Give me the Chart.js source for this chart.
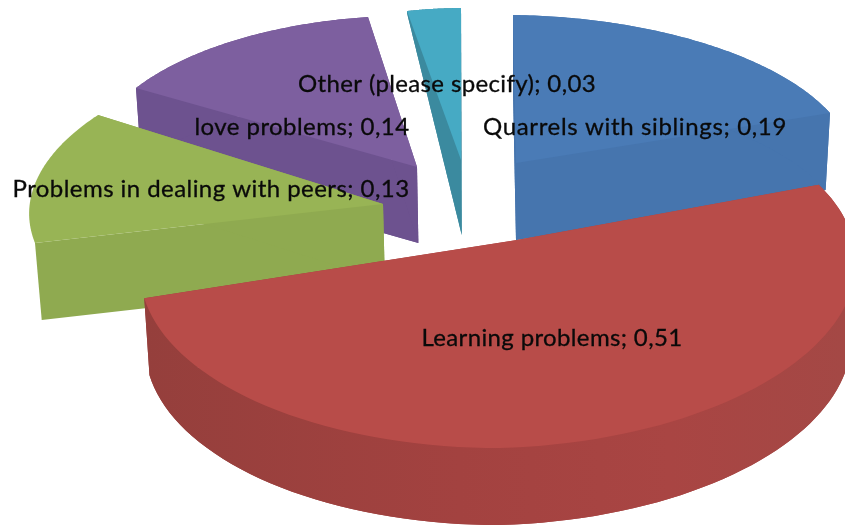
<!DOCTYPE html>
<html>
<head>
<meta charset="utf-8">
<style>html,body{margin:0;padding:0;background:#fff}canvas{display:block}</style>
<script src="https://cdn.jsdelivr.net/npm/chart.js@4"></script>
</head>
<body>
<canvas id="c" width="845" height="525"></canvas>
<script>
const categories = ["Quarrels with siblings", "Learning problems", "Problems in dealing with peers", "love problems", "Other (please specify)"];
const values = [0.19, 0.51, 0.13, 0.14, 0.03];
const topColors = ["#4A7BB6", "#B84C49", "#98B455", "#7D5F9F", "#46AAC4"];
const wallColors = ["#4675AE", "#A64442", "#8FAA50", "#6D528F", "#3B8A9F"];

// 3D view layout, per slice (not data)
const apexes = [[516,163],[517,240],[383,204],[417,167],[461,160]];
const startEdges = [[513,15],null,[35,243],[136,88],[407,11]];
const endEdges = [[830,113],null,[98,115],[368,17],[461,8]];
const innerDepths = [77,77,77,76,75];
const outerDepths = [77,77,77,76,2];
const rimWalls = [true,true,false,true,true];
const redEllipse = {cx:498, cy:271, a:358, b:177, tilt:0.024};
const redStartShift = 0.06;
const drawOrder = [3,4,0,2,1];
const vanishX = 516, depthShrink = 0.986;
const labelBoxes = [[635,135,304],[552,346,261],[211,197,397],[302,135,215],[447,92,298]];

function affine(A,P1,P2,t1,t2){
  const a=Math.sin(t1),b=Math.cos(t1),c=Math.sin(t2),d=Math.cos(t2),det=a*d-b*c;
  const v1=[P1[0]-A[0],P1[1]-A[1]],v2=[P2[0]-A[0],P2[1]-A[1]];
  const U=[(d*v1[0]-b*v2[0])/det,(d*v1[1]-b*v2[1])/det];
  const V=[(a*v2[0]-c*v1[0])/det,(a*v2[1]-c*v1[1])/det];
  return t=>[A[0]+Math.sin(t)*U[0]+Math.cos(t)*V[0],A[1]+Math.sin(t)*U[1]+Math.cos(t)*V[1]];
}
function perspective(A,E){
  const p=[(A[0]-E.cx)/E.a,(E.cy-A[1])/E.b];
  const s2=p[0]*p[0]+p[1]*p[1],g=1/Math.sqrt(1-s2);
  return t=>{
    const u=[Math.sin(t),Math.cos(t)],dot=u[0]*p[0]+u[1]*p[1],k=dot/s2,den=1+dot;
    const par=[k*p[0],k*p[1]];
    const wx=(p[0]+par[0]+(u[0]-par[0])/g)/den, wy=(p[1]+par[1]+(u[1]-par[1])/g)/den;
    const x=E.a*wx,y=E.b*wy;
    return [E.cx+x,E.cy-y-Math.max(x,0)*E.tilt];
  };
}
const sink=(pt,d)=>[vanishX+(pt[0]-vanishX)*(1-(1-depthShrink)*d/77),pt[1]+d];

const pie3d={
  id:'pie3d',
  beforeDatasetsDraw(chart){
    const ctx=chart.ctx,arcs=chart.getDatasetMeta(0).data;
    for(const i of drawOrder){
      const el=arcs[i],t1=el.endAngle+Math.PI/2,A=apexes[i];
      let t0=el.startAngle+Math.PI/2;
      const proj=startEdges[i]?affine(A,startEdges[i],endEdges[i],t0,t1):perspective(A,redEllipse);
      if(!startEdges[i])t0+=redStartShift;
      const rim=[];
      for(let k=0;k<=96;k++)rim.push(proj(t0+(t1-t0)*k/96));
      const dIn=innerDepths[i],dOut=outerDepths[i],low=rim.map(q=>sink(q,dOut)),lowA=sink(A,dIn);
      let wall=wallColors[i];
      if(i===1){
        wall=ctx.createLinearGradient(145,0,845,0);
        wall.addColorStop(0,'#953F3C');wall.addColorStop(0.45,'#A34240');wall.addColorStop(0.75,'#A94543');wall.addColorStop(1,'#A44845');
      }
      ctx.fillStyle=wall;
      const poly=pts=>{ctx.beginPath();pts.forEach((q,n)=>n?ctx.lineTo(q[0],q[1]):ctx.moveTo(q[0],q[1]));ctx.closePath();ctx.fill();};
      poly([A,rim[0],low[0],lowA]);
      poly([A,rim[96],low[96],lowA]);
      if(rimWalls[i]){
        poly(rim.concat(low.slice().reverse()));
        poly([lowA].concat(low));
      }
      ctx.fillStyle=topColors[i];
      poly([A].concat(rim));
    }
    return false;
  },
  afterDraw(chart){
    const ctx=chart.ctx;
    ctx.save();
    ctx.fillStyle='#0a0a0a';ctx.strokeStyle='#0a0a0a';ctx.lineWidth=0.3;
    ctx.textBaseline='alphabetic';ctx.textAlign='left';
    ctx.font='24px Lato';
    categories.forEach((name,i)=>{
      const txt=name+'; '+String(values[i]).replace('.',',');
      const b=labelBoxes[i];
      ctx.letterSpacing='0px';
      const w=ctx.measureText(txt).width;
      ctx.letterSpacing=((b[2]-w)/txt.length)+'px';
      ctx.fillText(txt,b[0]-b[2]/2,b[1]);
      ctx.strokeText(txt,b[0]-b[2]/2,b[1]);
    });
    ctx.restore();
  }
};

new Chart(document.getElementById('c'),{
  type:'pie',
  data:{labels:categories,datasets:[{data:values,backgroundColor:topColors,borderWidth:0}]},
  options:{responsive:false,animation:false,rotation:0,
    plugins:{legend:{display:false},tooltip:{enabled:false},title:{display:false}}},
  plugins:[pie3d]
});
</script>
</body>
</html>
